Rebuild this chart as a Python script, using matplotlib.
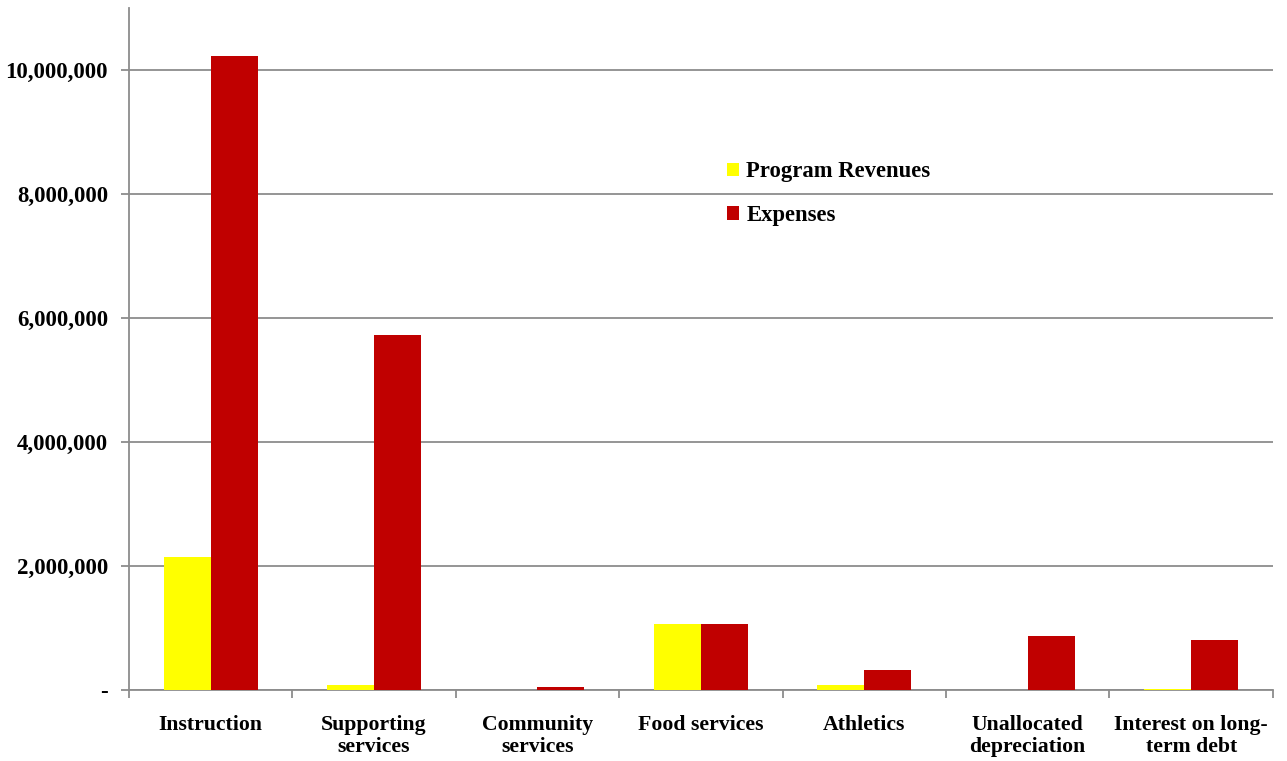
import matplotlib.pyplot as plt
import matplotlib.ticker as mticker
import numpy as np

categories = ['Instruction', 'Supporting\nservices', 'Community\nservices', 'Food services',
              'Athletics', 'Unallocated\ndepreciation', 'Interest on long-\nterm debt']
revenues = [2145000, 80000, 8000, 1065000, 80000, 0, 10000]
expenses = [10230000, 5730000, 50000, 1065000, 320000, 876000, 806000]

plt.rcParams['font.family'] = ['Liberation Serif', 'DejaVu Serif']
plt.rcParams['font.weight'] = 'bold'

fig = plt.figure(figsize=(12.87, 7.61), dpi=100)
ax = fig.add_axes([0.1002, 0.0933, 0.8888, 0.8962])

x = np.arange(len(categories))
w = 0.287
ax.bar(x - w / 2, revenues, w, color='#ffff00', label='Program Revenues', zorder=3)
ax.bar(x + w / 2, expenses, w, color='#c00000', label='Expenses', zorder=3)

ax.set_xlim(-0.5, len(categories) - 0.5)
ax.set_ylim(0, 11000000)
ax.set_yticks(np.arange(0, 10000001, 2000000))
ax.yaxis.set_major_formatter(mticker.FuncFormatter(lambda v, p: '-' if v == 0 else f'{v:,.0f}'))
ax.grid(axis='y', color='#8c8c8c', linewidth=1.3, zorder=0)

ax.set_xticks(x)
ax.set_xticklabels(categories, fontsize=15.7, fontweight='bold', linespacing=1.12)
ax.set_xticks(np.arange(-0.5, len(categories)), minor=True)
ax.tick_params(axis='x', which='major', length=0, pad=18)
ax.tick_params(axis='x', which='minor', length=6, color='#8c8c8c', width=1.3)
ax.tick_params(axis='y', length=6, color='#8c8c8c', width=1.3, labelsize=16.5, pad=9)
for lbl in ax.get_yticklabels():
    lbl.set_fontweight('bold')

for s in ['top', 'right']:
    ax.spines[s].set_visible(False)
for s in ['left', 'bottom']:
    ax.spines[s].set_color('#8c8c8c')
    ax.spines[s].set_linewidth(1.3)

ax.legend(loc='upper left', bbox_to_anchor=(0.505, 0.805), frameon=False,
          prop={'size': 16.3, 'weight': 'bold'}, handlelength=0.55, handleheight=0.55,
          handletextpad=0.3, labelspacing=1.0)

fig.savefig('out.png', dpi=100)
